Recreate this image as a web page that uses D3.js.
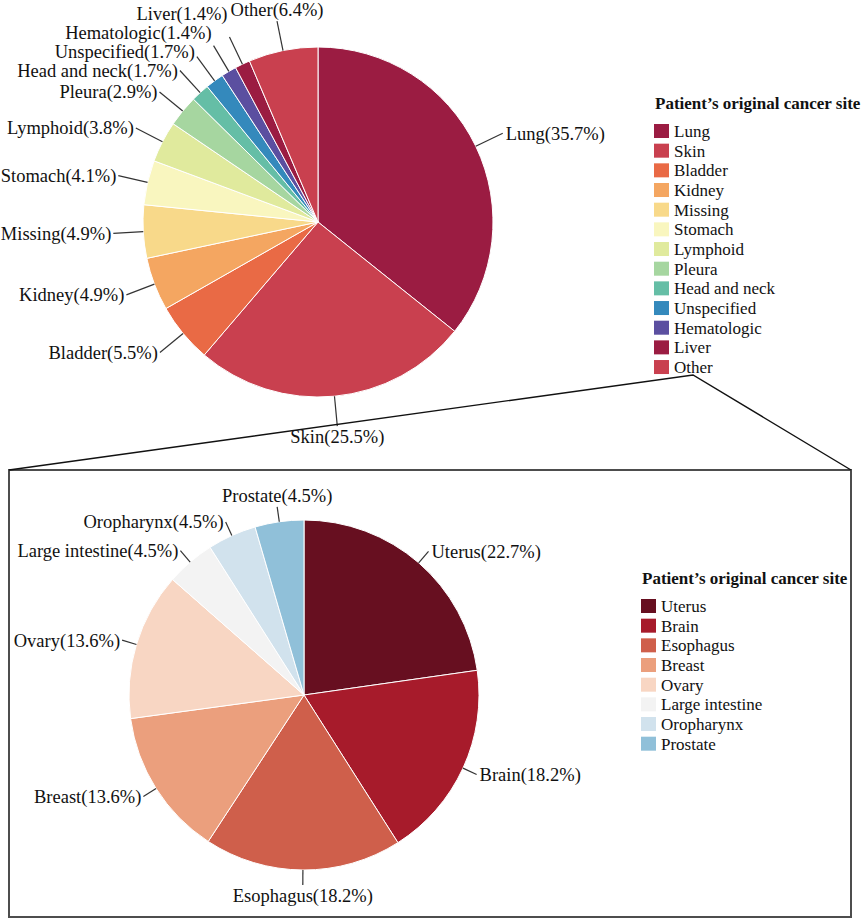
<!DOCTYPE html>
<html>
<head>
<meta charset="utf-8">
<script src="https://cdn.jsdelivr.net/npm/d3@7"></script>
<style>
  html, body { margin: 0; padding: 0; background: #fff; }
  svg { display: block; }
  text { font-family: 'Liberation Serif', Tinos, 'Times New Roman', Times, 'DejaVu Serif', serif; }
</style>
</head>
<body>
<svg id="chart" width="865" height="920"></svg>
<script>
// ---- Data ----
const topCategories = ["Lung", "Skin", "Bladder", "Kidney", "Missing", "Stomach", "Lymphoid",
  "Pleura", "Head and neck", "Unspecified", "Hematologic", "Liver", "Other"];
const topValues = [35.7, 25.5, 5.5, 4.9, 4.9, 4.1, 3.8, 2.9, 1.7, 1.7, 1.4, 1.4, 6.4];
const topColors = ["#9b1c42", "#c9404f", "#e96a45", "#f4a661", "#f8d98a", "#f9f6bf", "#e0ea9d",
  "#a6d6a0", "#65bea6", "#3489bc", "#5b4fa0", "#9b1c42", "#c9404f"];

const bottomCategories = ["Uterus", "Brain", "Esophagus", "Breast", "Ovary", "Large intestine",
  "Oropharynx", "Prostate"];
const bottomValues = [22.7, 18.2, 18.2, 13.6, 13.6, 4.5, 4.5, 4.5];
const bottomColors = ["#670f20", "#a71b2b", "#cf5f4b", "#eb9f7d", "#f8d6c3", "#f3f3f3",
  "#d1e2ed", "#90c0d9"];

const legendTitle = "Patient\u2019s original cancer site";

// ---- Drawing ----
const FONT = "'Liberation Serif', Tinos, 'Times New Roman', Times, 'DejaVu Serif', serif";
const svg = d3.select("#chart").attr("font-family", FONT);

function drawPie(cfg) {
  const data = cfg.categories.map((c, i) => ({ name: c, value: cfg.values[i] }));
  const color = d3.scaleOrdinal().domain(cfg.categories).range(cfg.colors);
  const pie = d3.pie().sort(null).value(d => d.value).startAngle(0).endAngle(2 * Math.PI);
  const arcs = pie(data);
  const arc = d3.arc().innerRadius(0).outerRadius(cfg.r);
  const edge = d3.arc().innerRadius(cfg.r).outerRadius(cfg.r);
  const outer = d3.arc().innerRadius(cfg.lineR).outerRadius(cfg.lineR);

  const g = svg.append("g").attr("transform", `translate(${cfg.cx},${cfg.cy})`);

  g.selectAll("path.slice").data(arcs).join("path")
    .attr("class", "slice")
    .attr("d", arc)
    .attr("fill", d => color(d.data.name))
    .attr("stroke", "#ffffff")
    .attr("stroke-width", 1);

  const labels = arcs.map(d => {
    const mid = (d.startAngle + d.endAngle) / 2;
    const p0 = edge.centroid(d);
    const p1 = outer.centroid(d);
    const s = Math.sin(mid), c = Math.cos(mid);
    let side = Math.abs(s) < 0.25 ? "mid" : (s > 0 ? "right" : "left");
    return { d, mid, p0, p1, side, ty: p1[1], c };
  });

  ["left", "right"].forEach(side => {
    const grp = labels.filter(l => l.side === side).sort((a, b) => b.ty - a.ty);
    for (let i = 1; i < grp.length; i++) {
      if (grp[i].ty < 0 && grp[i].ty > grp[i - 1].ty - cfg.spacing) {
        grp[i].ty = grp[i - 1].ty - cfg.spacing;
      }
    }
  });

  g.selectAll("line.lead").data(labels).join("line")
    .attr("class", "lead")
    .attr("x1", l => l.p0[0]).attr("y1", l => l.p0[1])
    .attr("x2", l => l.p1[0]).attr("y2", l => l.p1[1])
    .attr("stroke", "#333")
    .attr("stroke-width", 1.2);

  g.selectAll("text.lbl").data(labels).join("text")
    .attr("class", "lbl")
    .attr("x", l => l.side === "right" ? l.p1[0] + 3 : l.side === "left" ? l.p1[0] - 2 : l.p1[0])
    .attr("y", l => l.side === "mid" ? (l.c < 0 ? l.p1[1] + 17 : l.p1[1] - 5) : l.ty)
    .attr("dy", l => l.side === "mid" ? 0 : "0.35em")
    .attr("text-anchor", l => l.side === "right" ? "start" : l.side === "left" ? "end" : "middle")
    .attr("font-size", 18.5)
    .attr("fill", "#111")
    .text(l => `${l.d.data.name}(${l.d.data.value}%)`);

  const lg = svg.append("g").attr("transform", `translate(${cfg.lx},${cfg.ly})`);
  lg.append("text")
    .attr("x", 1).attr("y", 0)
    .attr("font-size", 17).attr("font-weight", "bold").attr("fill", "#111")
    .text(legendTitle);
  const item = lg.selectAll("g.item").data(cfg.categories).join("g")
    .attr("class", "item")
    .attr("transform", (d, i) => `translate(0,${22 + i * 19.67})`);
  item.append("rect")
    .attr("x", 0).attr("y", -7).attr("width", 15).attr("height", 14)
    .attr("fill", d => color(d));
  item.append("text")
    .attr("x", 20).attr("y", 0).attr("dy", "0.35em")
    .attr("font-size", 17).attr("fill", "#111")
    .text(d => d);
}

drawPie({
  categories: topCategories, values: topValues, colors: topColors,
  cx: 318, cy: 222, r: 175, lineR: 205, spacing: 19,
  lx: 654, ly: 109
});

svg.append("rect")
  .attr("x", 9).attr("y", 470).attr("width", 842).attr("height", 447)
  .attr("fill", "none").attr("stroke", "#4d4d4d").attr("stroke-width", 2);
svg.append("polyline")
  .attr("points", "9,470 693,375 851,470")
  .attr("fill", "none").attr("stroke", "#111").attr("stroke-width", 1.4);

drawPie({
  categories: bottomCategories, values: bottomValues, colors: bottomColors,
  cx: 304, cy: 695, r: 175, lineR: 190, spacing: 19,
  lx: 641, ly: 584
});
</script>
</body>
</html>
